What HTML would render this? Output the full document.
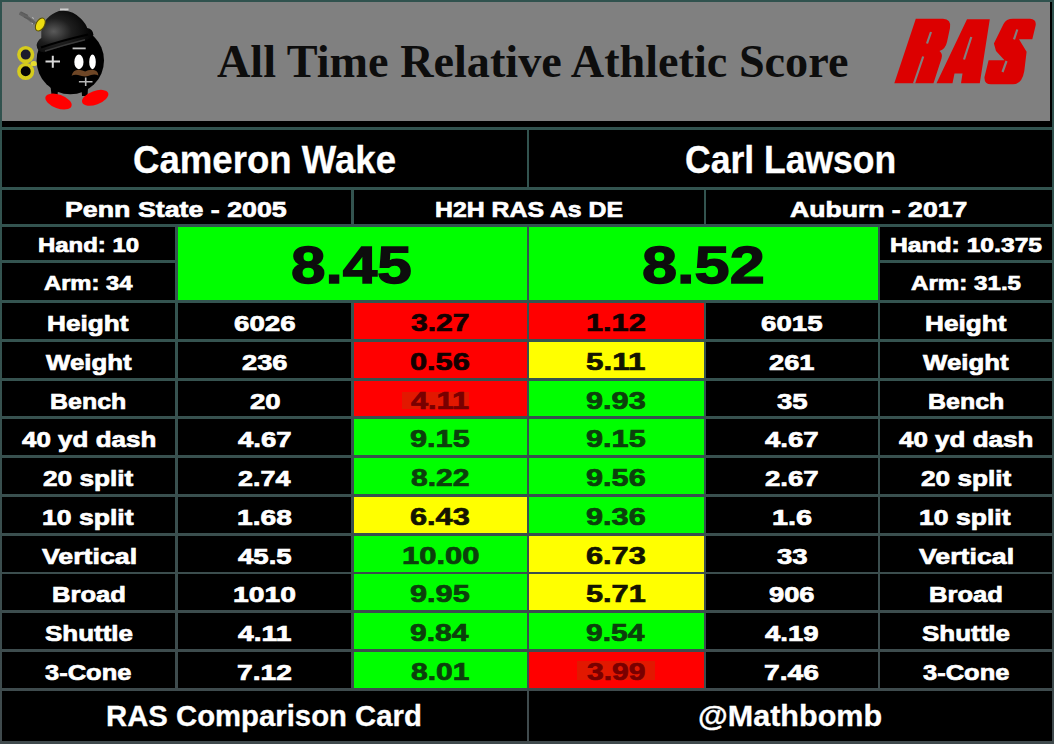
<!DOCTYPE html>
<html><head><meta charset="utf-8"><style>
html,body{margin:0;padding:0;}
body{width:1054px;height:744px;background:linear-gradient(180deg,rgb(48,82,78) 0px,rgb(52,84,80) 300px,rgb(64,74,77) 744px);position:relative;overflow:hidden;font-family:"Liberation Sans",sans-serif;font-weight:bold;}
.c{position:absolute;}
.t{position:absolute;white-space:nowrap;line-height:normal;font-weight:bold;transform-origin:0 0;}
#hdr{position:absolute;left:2px;top:2px;width:1050px;height:125px;background:#000;}
#hdrg{position:absolute;left:2px;top:2px;width:1048px;height:119px;background:#808080;}
</style></head><body>
<div id="hdr"></div><div id="hdrg"></div>
<svg width="130" height="121" viewBox="0 0 130 121" style="position:absolute;left:0;top:0">
<defs>
<radialGradient id="hatg" cx="0.3" cy="0.5" r="0.7"><stop offset="0" stop-color="#5a5a5a"/><stop offset="0.45" stop-color="#1e1e1e"/><stop offset="1" stop-color="#000"/></radialGradient>
</defs>
<path d="M19.5 13 Q27 16.5 35 23.5" stroke="#626262" stroke-width="3.2" fill="none"/><path d="M21 12 L28 15.5 M24 17 L31 20" stroke="#5a5a5a" stroke-width="1.3"/><path d="M32 17.5 L34 18.5 M31.5 23 L33 24" stroke="#bbb" stroke-width="1"/>
<circle cx="25.7" cy="54.6" r="6.8" fill="#1c1c2c" stroke="#d6cc1c" stroke-width="3.6"/>
<circle cx="25.7" cy="71.3" r="6.8" fill="#060606" stroke="#d6cc1c" stroke-width="3.6"/>
<ellipse cx="33.8" cy="63.5" rx="3.2" ry="2.6" fill="#e6dc30"/>
<path d="M50.5 86 L58.5 86 L57.5 95 L51.5 95 Z M81.5 88 L88 88 L87.5 96 L82 96 Z" fill="#000"/>
<ellipse cx="58.5" cy="101.5" rx="13.8" ry="6.8" fill="#ff0000" transform="rotate(20 58.5 101.5)"/>
<ellipse cx="95.2" cy="97.8" rx="13.8" ry="6.8" fill="#ff0000" transform="rotate(-20 95.2 97.8)"/>
<circle cx="70.3" cy="60.5" r="33.7" fill="#000"/>
<path d="M36.6 44.9 Q37.5 40.5 41.3 38 L41.3 31.3 Q44 16 59 11 Q72 9 81 18.8 Q86 24 87.2 28 Q93 29 93.5 35 Q90 39.5 83 41 Q62 46 44.4 52.2 Q37 52.5 36.6 44.9 Z" fill="url(#hatg)"/>
<path d="M41 47.5 Q60 41 88 34.5" stroke="#000" stroke-width="2.2" fill="none"/>
<path d="M45 51 Q64 45 85 39.8" stroke="#3a3a3a" stroke-width="1.4" fill="none"/>
<ellipse cx="40.3" cy="24.5" rx="4.2" ry="7" fill="#eedd10" stroke="#5a5000" stroke-width="1" transform="rotate(28 40.3 24.5)"/>
<path d="M52.8 55.7 V67.7 M45.5 61.4 H60" stroke="#d8d8d8" stroke-width="2"/>
<ellipse cx="78.9" cy="61.9" rx="4.6" ry="7.3" fill="#fff"/>
<ellipse cx="92.5" cy="61.9" rx="3.3" ry="7.3" fill="#fff"/>
<path d="M71.6 75.8 Q73 69.5 79 69.8 Q83 70.2 85.2 71.5 Q87.5 69.8 92 69.8 Q98 70 98.4 75.5 Q95 73.8 91 75 Q88 76 85.2 76.5 Q82 76 78 75 Q74 74.5 71.6 75.8 Z" fill="#6e4626"/>
<path d="M78.9 81.8 H92.5 M85.7 77.5 V86" stroke="#b8b8b8" stroke-width="1.6"/>
<path d="M72.6 48.4 H85.7" stroke="#c0c0c0" stroke-width="1.8"/>
<path d="M60 9.4 H68.5" stroke="#d0d0d0" stroke-width="1.8"/>
</svg>

<svg width="1054" height="121" viewBox="0 0 1054 121" style="position:absolute;left:0;top:0">
<g fill="#dc0000">
<path d="M894.3 83.3 L915.8 18.8 L943 18.8 Q951.5 19 950 28 L947 42 Q945.5 49 939.5 51 Q943 53.5 941.5 58.5 L933.5 83.3 Z"/>
<path d="M936.5 83.3 L967 19.3 L989.8 19.3 L979.8 83.3 L961 83.3 L962.5 73.5 L954.5 73.5 L952.5 83.3 Z"/>
<path d="M1003.5 24 Q1006 18.8 1013 18.8 L1030 18.8 Q1037 19.5 1035.5 26 L1032.3 39.3 L1019 39.3 L1026.6 51.8 L1024.3 71 Q1022 84.3 1013 84.3 L991 84.3 Q984 84 984.5 77 L988.6 60.2 L1004.5 60.2 L996 51 L993.9 43.4 Z"/>
</g>
<g stroke="#808080" stroke-width="2.2" fill="none">
<path d="M923.2 56.5 L914 83.5"/>
<path d="M931 32 L927 43.5"/>
<path d="M971.3 37 L964 59.5"/>
<path d="M1017.3 29.5 L1014 39.3"/>
<path d="M1006.5 61 L1002.5 72"/>
</g>
</svg>

<div class="c" style="left:2px;top:130.00px;width:525px;height:56.60px;background:#000;"></div><div class="c" style="left:529px;top:130.00px;width:523px;height:56.60px;background:#000;"></div><div class="c" style="left:2px;top:190.00px;width:349px;height:33.60px;background:#000;"></div><div class="c" style="left:354px;top:190.00px;width:350px;height:33.60px;background:#000;"></div><div class="c" style="left:706px;top:190.00px;width:346px;height:33.60px;background:#000;"></div><div class="c" style="left:2px;top:227.00px;width:173px;height:32.60px;background:#000;"></div><div class="c" style="left:2px;top:262.60px;width:173px;height:37.40px;background:#000;"></div><div class="c" style="left:880px;top:227.00px;width:172px;height:32.60px;background:#000;"></div><div class="c" style="left:880px;top:262.60px;width:172px;height:37.40px;background:#000;"></div><div class="c" style="left:178px;top:227.00px;width:349px;height:73.00px;background:#00ff00;"></div><div class="c" style="left:529px;top:227.00px;width:349px;height:73.00px;background:#00ff00;"></div><div class="c" style="left:2px;top:303.00px;width:173px;height:35.90px;background:#000;"></div><div class="c" style="left:178px;top:303.00px;width:173px;height:35.90px;background:#000;"></div><div class="c" style="left:354px;top:303.00px;width:173px;height:35.90px;background:#ff0000;"></div><div class="c" style="left:529px;top:303.00px;width:175px;height:35.90px;background:#ff0000;"></div><div class="c" style="left:706px;top:303.00px;width:172px;height:35.90px;background:#000;"></div><div class="c" style="left:880px;top:303.00px;width:172px;height:35.90px;background:#000;"></div><div class="c" style="left:2px;top:341.78px;width:173px;height:35.90px;background:#000;"></div><div class="c" style="left:178px;top:341.78px;width:173px;height:35.90px;background:#000;"></div><div class="c" style="left:354px;top:341.78px;width:173px;height:35.90px;background:#ff0000;"></div><div class="c" style="left:529px;top:341.78px;width:175px;height:35.90px;background:#ffff00;"></div><div class="c" style="left:706px;top:341.78px;width:172px;height:35.90px;background:#000;"></div><div class="c" style="left:880px;top:341.78px;width:172px;height:35.90px;background:#000;"></div><div class="c" style="left:2px;top:380.56px;width:173px;height:35.90px;background:#000;"></div><div class="c" style="left:178px;top:380.56px;width:173px;height:35.90px;background:#000;"></div><div class="c" style="left:354px;top:380.56px;width:173px;height:35.90px;background:#ff0000;"></div><div class="c" style="left:529px;top:380.56px;width:175px;height:35.90px;background:#00ff00;"></div><div class="c" style="left:706px;top:380.56px;width:172px;height:35.90px;background:#000;"></div><div class="c" style="left:880px;top:380.56px;width:172px;height:35.90px;background:#000;"></div><div class="c" style="left:2px;top:419.33px;width:173px;height:35.90px;background:#000;"></div><div class="c" style="left:178px;top:419.33px;width:173px;height:35.90px;background:#000;"></div><div class="c" style="left:354px;top:419.33px;width:173px;height:35.90px;background:#00ff00;"></div><div class="c" style="left:529px;top:419.33px;width:175px;height:35.90px;background:#00ff00;"></div><div class="c" style="left:706px;top:419.33px;width:172px;height:35.90px;background:#000;"></div><div class="c" style="left:880px;top:419.33px;width:172px;height:35.90px;background:#000;"></div><div class="c" style="left:2px;top:458.11px;width:173px;height:35.90px;background:#000;"></div><div class="c" style="left:178px;top:458.11px;width:173px;height:35.90px;background:#000;"></div><div class="c" style="left:354px;top:458.11px;width:173px;height:35.90px;background:#00ff00;"></div><div class="c" style="left:529px;top:458.11px;width:175px;height:35.90px;background:#00ff00;"></div><div class="c" style="left:706px;top:458.11px;width:172px;height:35.90px;background:#000;"></div><div class="c" style="left:880px;top:458.11px;width:172px;height:35.90px;background:#000;"></div><div class="c" style="left:2px;top:496.89px;width:173px;height:35.90px;background:#000;"></div><div class="c" style="left:178px;top:496.89px;width:173px;height:35.90px;background:#000;"></div><div class="c" style="left:354px;top:496.89px;width:173px;height:35.90px;background:#ffff00;"></div><div class="c" style="left:529px;top:496.89px;width:175px;height:35.90px;background:#00ff00;"></div><div class="c" style="left:706px;top:496.89px;width:172px;height:35.90px;background:#000;"></div><div class="c" style="left:880px;top:496.89px;width:172px;height:35.90px;background:#000;"></div><div class="c" style="left:2px;top:535.67px;width:173px;height:35.90px;background:#000;"></div><div class="c" style="left:178px;top:535.67px;width:173px;height:35.90px;background:#000;"></div><div class="c" style="left:354px;top:535.67px;width:173px;height:35.90px;background:#00ff00;"></div><div class="c" style="left:529px;top:535.67px;width:175px;height:35.90px;background:#ffff00;"></div><div class="c" style="left:706px;top:535.67px;width:172px;height:35.90px;background:#000;"></div><div class="c" style="left:880px;top:535.67px;width:172px;height:35.90px;background:#000;"></div><div class="c" style="left:2px;top:574.44px;width:173px;height:35.90px;background:#000;"></div><div class="c" style="left:178px;top:574.44px;width:173px;height:35.90px;background:#000;"></div><div class="c" style="left:354px;top:574.44px;width:173px;height:35.90px;background:#00ff00;"></div><div class="c" style="left:529px;top:574.44px;width:175px;height:35.90px;background:#ffff00;"></div><div class="c" style="left:706px;top:574.44px;width:172px;height:35.90px;background:#000;"></div><div class="c" style="left:880px;top:574.44px;width:172px;height:35.90px;background:#000;"></div><div class="c" style="left:2px;top:613.22px;width:173px;height:35.90px;background:#000;"></div><div class="c" style="left:178px;top:613.22px;width:173px;height:35.90px;background:#000;"></div><div class="c" style="left:354px;top:613.22px;width:173px;height:35.90px;background:#00ff00;"></div><div class="c" style="left:529px;top:613.22px;width:175px;height:35.90px;background:#00ff00;"></div><div class="c" style="left:706px;top:613.22px;width:172px;height:35.90px;background:#000;"></div><div class="c" style="left:880px;top:613.22px;width:172px;height:35.90px;background:#000;"></div><div class="c" style="left:2px;top:652.00px;width:173px;height:35.90px;background:#000;"></div><div class="c" style="left:178px;top:652.00px;width:173px;height:35.90px;background:#000;"></div><div class="c" style="left:354px;top:652.00px;width:173px;height:35.90px;background:#00ff00;"></div><div class="c" style="left:529px;top:652.00px;width:175px;height:35.90px;background:#ff0000;"></div><div class="c" style="left:706px;top:652.00px;width:172px;height:35.90px;background:#000;"></div><div class="c" style="left:880px;top:652.00px;width:172px;height:35.90px;background:#000;"></div><div class="c" style="left:401.5px;top:392.20px;width:67.19999999999999px;height:17.10px;background:rgb(226,24,0);"></div><div class="c" style="left:577px;top:660.50px;width:77.5px;height:19.40px;background:rgb(226,24,0);"></div><div class="c" style="left:2px;top:691.00px;width:525px;height:49.60px;background:#000;"></div><div class="c" style="left:529px;top:691.00px;width:523px;height:49.60px;background:#000;"></div>
<div class="t" style="left:217.10px;top:34.10px;font-size:46.870px;transform:scaleX(0.9861);color:#0d0d0d;font-family:'Liberation Serif',serif;-webkit-text-stroke:0px #0d0d0d">All Time Relative Athletic Score</div><div class="t" style="left:132.74px;top:139.00px;font-size:38.081px;transform:scaleX(0.9610);color:#fff;font-family:'Liberation Sans',sans-serif;-webkit-text-stroke:0.3px #fff">Cameron Wake</div><div class="t" style="left:685.27px;top:139.00px;font-size:38.081px;transform:scaleX(0.9332);color:#fff;font-family:'Liberation Sans',sans-serif;-webkit-text-stroke:0.3px #fff">Carl Lawson</div><div class="t" style="left:64.80px;top:196.80px;font-size:22.238px;transform:scaleX(1.2049);color:#fff;font-family:'Liberation Sans',sans-serif;-webkit-text-stroke:0.7px #fff">Penn State - 2005</div><div class="t" style="left:434.59px;top:196.80px;font-size:22.238px;transform:scaleX(1.1172);color:#fff;font-family:'Liberation Sans',sans-serif;-webkit-text-stroke:0.7px #fff">H2H RAS As DE</div><div class="t" style="left:790.47px;top:196.80px;font-size:22.238px;transform:scaleX(1.1963);color:#fff;font-family:'Liberation Sans',sans-serif;-webkit-text-stroke:0.7px #fff">Auburn - 2017</div><div class="t" style="left:37.51px;top:233.60px;font-size:20.203px;transform:scaleX(1.1857);color:#fff;font-family:'Liberation Sans',sans-serif;-webkit-text-stroke:0.7px #fff">Hand: 10</div><div class="t" style="left:43.85px;top:272.10px;font-size:20.203px;transform:scaleX(1.1750);color:#fff;font-family:'Liberation Sans',sans-serif;-webkit-text-stroke:0.7px #fff">Arm: 34</div><div class="t" style="left:889.70px;top:233.60px;font-size:20.203px;transform:scaleX(1.2208);color:#fff;font-family:'Liberation Sans',sans-serif;-webkit-text-stroke:0.7px #fff">Hand: 10.375</div><div class="t" style="left:910.99px;top:272.10px;font-size:20.203px;transform:scaleX(1.1958);color:#fff;font-family:'Liberation Sans',sans-serif;-webkit-text-stroke:0.7px #fff">Arm: 31.5</div><div class="t" style="left:290.82px;top:235.40px;font-size:52.471px;transform:scaleX(1.1840);color:#0d0d0d;font-family:'Liberation Sans',sans-serif;-webkit-text-stroke:1.4px #0d0d0d">8.45</div><div class="t" style="left:641.60px;top:235.40px;font-size:52.471px;transform:scaleX(1.2020);color:#0d0d0d;font-family:'Liberation Sans',sans-serif;-webkit-text-stroke:1.4px #0d0d0d">8.52</div><div class="t" style="left:47.26px;top:311.00px;font-size:22.238px;transform:scaleX(1.1782);color:#fff;font-family:'Liberation Sans',sans-serif;-webkit-text-stroke:0.7px #fff">Height</div><div class="t" style="left:233.97px;top:311.00px;font-size:22.238px;transform:scaleX(1.2463);color:#fff;font-family:'Liberation Sans',sans-serif;-webkit-text-stroke:0.7px #fff">6026</div><div class="t" style="left:411.39px;top:309.00px;font-size:24.273px;transform:scaleX(1.2387);color:#120000;font-family:'Liberation Sans',sans-serif;-webkit-text-stroke:0.7px #120000">3.27</div><div class="t" style="left:586.12px;top:309.00px;font-size:24.273px;transform:scaleX(1.2656);color:#120000;font-family:'Liberation Sans',sans-serif;-webkit-text-stroke:0.7px #120000">1.12</div><div class="t" style="left:761.47px;top:311.00px;font-size:22.238px;transform:scaleX(1.2463);color:#fff;font-family:'Liberation Sans',sans-serif;-webkit-text-stroke:0.7px #fff">6015</div><div class="t" style="left:924.76px;top:311.00px;font-size:22.238px;transform:scaleX(1.1782);color:#fff;font-family:'Liberation Sans',sans-serif;-webkit-text-stroke:0.7px #fff">Height</div><div class="t" style="left:45.51px;top:349.78px;font-size:22.238px;transform:scaleX(1.1618);color:#fff;font-family:'Liberation Sans',sans-serif;-webkit-text-stroke:0.7px #fff">Weight</div><div class="t" style="left:241.79px;top:349.78px;font-size:22.238px;transform:scaleX(1.2277);color:#fff;font-family:'Liberation Sans',sans-serif;-webkit-text-stroke:0.7px #fff">236</div><div class="t" style="left:410.12px;top:347.78px;font-size:24.273px;transform:scaleX(1.2656);color:#120000;font-family:'Liberation Sans',sans-serif;-webkit-text-stroke:0.7px #120000">0.56</div><div class="t" style="left:586.10px;top:347.78px;font-size:24.273px;transform:scaleX(1.2938);color:#141400;font-family:'Liberation Sans',sans-serif;-webkit-text-stroke:0.7px #141400">5.11</div><div class="t" style="left:769.29px;top:349.78px;font-size:22.238px;transform:scaleX(1.2277);color:#fff;font-family:'Liberation Sans',sans-serif;-webkit-text-stroke:0.7px #fff">261</div><div class="t" style="left:923.01px;top:349.78px;font-size:22.238px;transform:scaleX(1.1618);color:#fff;font-family:'Liberation Sans',sans-serif;-webkit-text-stroke:0.7px #fff">Weight</div><div class="t" style="left:50.31px;top:388.56px;font-size:22.238px;transform:scaleX(1.1233);color:#fff;font-family:'Liberation Sans',sans-serif;-webkit-text-stroke:0.7px #fff">Bench</div><div class="t" style="left:249.61px;top:388.56px;font-size:22.238px;transform:scaleX(1.2410);color:#fff;font-family:'Liberation Sans',sans-serif;-webkit-text-stroke:0.7px #fff">20</div><div class="t" style="left:411.39px;top:386.56px;font-size:24.273px;transform:scaleX(1.2656);color:#780000;font-family:'Liberation Sans',sans-serif;-webkit-text-stroke:0.7px #780000">4.11</div><div class="t" style="left:586.12px;top:386.56px;font-size:24.273px;transform:scaleX(1.2656);color:#0c400c;font-family:'Liberation Sans',sans-serif;-webkit-text-stroke:0.7px #0c400c">9.93</div><div class="t" style="left:777.11px;top:388.56px;font-size:22.238px;transform:scaleX(1.2410);color:#fff;font-family:'Liberation Sans',sans-serif;-webkit-text-stroke:0.7px #fff">35</div><div class="t" style="left:927.81px;top:388.56px;font-size:22.238px;transform:scaleX(1.1233);color:#fff;font-family:'Liberation Sans',sans-serif;-webkit-text-stroke:0.7px #fff">Bench</div><div class="t" style="left:21.84px;top:427.33px;font-size:22.238px;transform:scaleX(1.1694);color:#fff;font-family:'Liberation Sans',sans-serif;-webkit-text-stroke:0.7px #fff">40 yd dash</div><div class="t" style="left:237.82px;top:427.33px;font-size:22.238px;transform:scaleX(1.2411);color:#fff;font-family:'Liberation Sans',sans-serif;-webkit-text-stroke:0.7px #fff">4.67</div><div class="t" style="left:410.12px;top:425.33px;font-size:24.273px;transform:scaleX(1.2656);color:#0c400c;font-family:'Liberation Sans',sans-serif;-webkit-text-stroke:0.7px #0c400c">9.15</div><div class="t" style="left:586.12px;top:425.33px;font-size:24.273px;transform:scaleX(1.2656);color:#0c400c;font-family:'Liberation Sans',sans-serif;-webkit-text-stroke:0.7px #0c400c">9.15</div><div class="t" style="left:765.32px;top:427.33px;font-size:22.238px;transform:scaleX(1.2411);color:#fff;font-family:'Liberation Sans',sans-serif;-webkit-text-stroke:0.7px #fff">4.67</div><div class="t" style="left:899.34px;top:427.33px;font-size:22.238px;transform:scaleX(1.1694);color:#fff;font-family:'Liberation Sans',sans-serif;-webkit-text-stroke:0.7px #fff">40 yd dash</div><div class="t" style="left:43.09px;top:466.11px;font-size:22.238px;transform:scaleX(1.1794);color:#fff;font-family:'Liberation Sans',sans-serif;-webkit-text-stroke:0.7px #fff">20 split</div><div class="t" style="left:237.82px;top:466.11px;font-size:22.238px;transform:scaleX(1.2129);color:#fff;font-family:'Liberation Sans',sans-serif;-webkit-text-stroke:0.7px #fff">2.74</div><div class="t" style="left:411.39px;top:464.11px;font-size:24.273px;transform:scaleX(1.2387);color:#0c400c;font-family:'Liberation Sans',sans-serif;-webkit-text-stroke:0.7px #0c400c">8.22</div><div class="t" style="left:586.12px;top:464.11px;font-size:24.273px;transform:scaleX(1.2656);color:#0c400c;font-family:'Liberation Sans',sans-serif;-webkit-text-stroke:0.7px #0c400c">9.56</div><div class="t" style="left:765.32px;top:466.11px;font-size:22.238px;transform:scaleX(1.2411);color:#fff;font-family:'Liberation Sans',sans-serif;-webkit-text-stroke:0.7px #fff">2.67</div><div class="t" style="left:920.59px;top:466.11px;font-size:22.238px;transform:scaleX(1.1794);color:#fff;font-family:'Liberation Sans',sans-serif;-webkit-text-stroke:0.7px #fff">20 split</div><div class="t" style="left:41.90px;top:504.89px;font-size:22.238px;transform:scaleX(1.1949);color:#fff;font-family:'Liberation Sans',sans-serif;-webkit-text-stroke:0.7px #fff">10 split</div><div class="t" style="left:236.55px;top:504.89px;font-size:22.238px;transform:scaleX(1.2707);color:#fff;font-family:'Liberation Sans',sans-serif;-webkit-text-stroke:0.7px #fff">1.68</div><div class="t" style="left:410.12px;top:502.89px;font-size:24.273px;transform:scaleX(1.2656);color:#141400;font-family:'Liberation Sans',sans-serif;-webkit-text-stroke:0.7px #141400">6.43</div><div class="t" style="left:586.12px;top:502.89px;font-size:24.273px;transform:scaleX(1.2656);color:#0c400c;font-family:'Liberation Sans',sans-serif;-webkit-text-stroke:0.7px #0c400c">9.36</div><div class="t" style="left:771.84px;top:504.89px;font-size:22.238px;transform:scaleX(1.3009);color:#fff;font-family:'Liberation Sans',sans-serif;-webkit-text-stroke:0.7px #fff">1.6</div><div class="t" style="left:919.40px;top:504.89px;font-size:22.238px;transform:scaleX(1.1949);color:#fff;font-family:'Liberation Sans',sans-serif;-webkit-text-stroke:0.7px #fff">10 split</div><div class="t" style="left:41.59px;top:543.67px;font-size:22.238px;transform:scaleX(1.2029);color:#fff;font-family:'Liberation Sans',sans-serif;-webkit-text-stroke:0.7px #fff">Vertical</div><div class="t" style="left:237.82px;top:543.67px;font-size:22.238px;transform:scaleX(1.2411);color:#fff;font-family:'Liberation Sans',sans-serif;-webkit-text-stroke:0.7px #fff">45.5</div><div class="t" style="left:401.58px;top:541.67px;font-size:24.273px;transform:scaleX(1.2760);color:#0c400c;font-family:'Liberation Sans',sans-serif;-webkit-text-stroke:0.7px #0c400c">10.00</div><div class="t" style="left:586.12px;top:541.67px;font-size:24.273px;transform:scaleX(1.2656);color:#141400;font-family:'Liberation Sans',sans-serif;-webkit-text-stroke:0.7px #141400">6.73</div><div class="t" style="left:777.11px;top:543.67px;font-size:22.238px;transform:scaleX(1.2410);color:#fff;font-family:'Liberation Sans',sans-serif;-webkit-text-stroke:0.7px #fff">33</div><div class="t" style="left:919.09px;top:543.67px;font-size:22.238px;transform:scaleX(1.2029);color:#fff;font-family:'Liberation Sans',sans-serif;-webkit-text-stroke:0.7px #fff">Vertical</div><div class="t" style="left:51.66px;top:582.44px;font-size:22.238px;transform:scaleX(1.1514);color:#fff;font-family:'Liberation Sans',sans-serif;-webkit-text-stroke:0.7px #fff">Broad</div><div class="t" style="left:232.69px;top:582.44px;font-size:22.238px;transform:scaleX(1.2722);color:#fff;font-family:'Liberation Sans',sans-serif;-webkit-text-stroke:0.7px #fff">1010</div><div class="t" style="left:410.12px;top:580.44px;font-size:24.273px;transform:scaleX(1.2656);color:#0c400c;font-family:'Liberation Sans',sans-serif;-webkit-text-stroke:0.7px #0c400c">9.95</div><div class="t" style="left:586.12px;top:580.44px;font-size:24.273px;transform:scaleX(1.2656);color:#141400;font-family:'Liberation Sans',sans-serif;-webkit-text-stroke:0.7px #141400">5.71</div><div class="t" style="left:769.29px;top:582.44px;font-size:22.238px;transform:scaleX(1.2277);color:#fff;font-family:'Liberation Sans',sans-serif;-webkit-text-stroke:0.7px #fff">906</div><div class="t" style="left:929.16px;top:582.44px;font-size:22.238px;transform:scaleX(1.1514);color:#fff;font-family:'Liberation Sans',sans-serif;-webkit-text-stroke:0.7px #fff">Broad</div><div class="t" style="left:44.68px;top:621.22px;font-size:22.238px;transform:scaleX(1.1686);color:#fff;font-family:'Liberation Sans',sans-serif;-webkit-text-stroke:0.7px #fff">Shuttle</div><div class="t" style="left:237.82px;top:621.22px;font-size:22.238px;transform:scaleX(1.2707);color:#fff;font-family:'Liberation Sans',sans-serif;-webkit-text-stroke:0.7px #fff">4.11</div><div class="t" style="left:410.15px;top:619.22px;font-size:24.273px;transform:scaleX(1.2387);color:#0c400c;font-family:'Liberation Sans',sans-serif;-webkit-text-stroke:0.7px #0c400c">9.84</div><div class="t" style="left:586.15px;top:619.22px;font-size:24.273px;transform:scaleX(1.2387);color:#0c400c;font-family:'Liberation Sans',sans-serif;-webkit-text-stroke:0.7px #0c400c">9.54</div><div class="t" style="left:765.32px;top:621.22px;font-size:22.238px;transform:scaleX(1.2411);color:#fff;font-family:'Liberation Sans',sans-serif;-webkit-text-stroke:0.7px #fff">4.19</div><div class="t" style="left:922.18px;top:621.22px;font-size:22.238px;transform:scaleX(1.1686);color:#fff;font-family:'Liberation Sans',sans-serif;-webkit-text-stroke:0.7px #fff">Shuttle</div><div class="t" style="left:45.49px;top:660.00px;font-size:22.238px;transform:scaleX(1.1469);color:#fff;font-family:'Liberation Sans',sans-serif;-webkit-text-stroke:0.7px #fff">3-Cone</div><div class="t" style="left:236.55px;top:660.00px;font-size:22.238px;transform:scaleX(1.2707);color:#fff;font-family:'Liberation Sans',sans-serif;-webkit-text-stroke:0.7px #fff">7.12</div><div class="t" style="left:411.39px;top:658.00px;font-size:24.273px;transform:scaleX(1.2387);color:#0c400c;font-family:'Liberation Sans',sans-serif;-webkit-text-stroke:0.7px #0c400c">8.01</div><div class="t" style="left:587.39px;top:658.00px;font-size:24.273px;transform:scaleX(1.2387);color:#780000;font-family:'Liberation Sans',sans-serif;-webkit-text-stroke:0.7px #780000">3.99</div><div class="t" style="left:764.05px;top:660.00px;font-size:22.238px;transform:scaleX(1.2707);color:#fff;font-family:'Liberation Sans',sans-serif;-webkit-text-stroke:0.7px #fff">7.46</div><div class="t" style="left:922.99px;top:660.00px;font-size:22.238px;transform:scaleX(1.1469);color:#fff;font-family:'Liberation Sans',sans-serif;-webkit-text-stroke:0.7px #fff">3-Cone</div><div class="t" style="left:105.97px;top:699.70px;font-size:28.924px;transform:scaleX(1.0136);color:#fff;font-family:'Liberation Sans',sans-serif;-webkit-text-stroke:0.3px #fff">RAS Comparison Card</div><div class="t" style="left:697.69px;top:699.70px;font-size:28.924px;transform:scaleX(1.0561);color:#fff;font-family:'Liberation Sans',sans-serif;-webkit-text-stroke:0.3px #fff">@Mathbomb</div>
</body></html>
